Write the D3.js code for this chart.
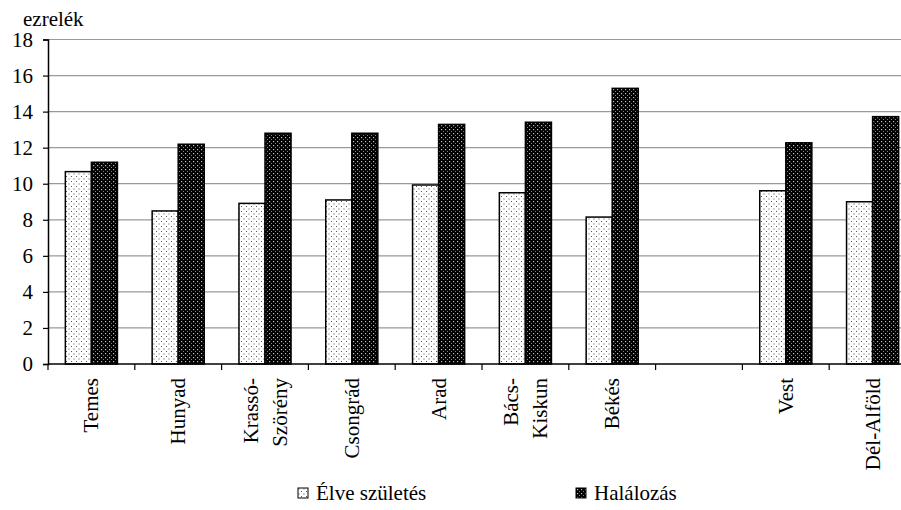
<!DOCTYPE html>
<html>
<head>
<meta charset="utf-8">
<script src="https://cdn.jsdelivr.net/npm/d3@7"></script>
</head>
<body style="margin:0;padding:0;background:#fff">
<div id="wrap"></div>
<script>
// ---- data ----
const categories = ["Temes", "Hunyad", "Krassó-|Szörény", "Csongrád", "Arad", "Bács-|Kiskun", "Békés", "_gap", "Vest", "Dél-Alföld"];
const seriesNames = ["Élve születés", "Halálozás"];
const elveSzuletes = [10.67, 8.49, 8.91, 9.10, 9.93, 9.50, 8.15, null, 9.61, 9.00];
const halalozas    = [11.19, 12.19, 12.80, 12.80, 13.29, 13.41, 15.29, null, 12.27, 13.72];
const yTicks = [0, 2, 4, 6, 8, 10, 12, 14, 16, 18];
const yUnit = "ezrelék";

const seriesValues = [elveSzuletes, halalozas];
const patternIds = ["patLight", "patDark"];

const svg = d3.select("#wrap").append("svg")
  .attr("width", 901).attr("height", 510)
  .style("display", "block");

function serif(sel, size) {
  return sel.style("font", size + "px 'Times New Roman', 'Liberation Serif', serif");
}

// ---- patterns ----
const defs = svg.append("defs");
const pl = defs.append("pattern").attr("id", "patLight").attr("patternUnits", "userSpaceOnUse")
  .attr("width", 5).attr("height", 5);
pl.append("rect").attr("width", 5).attr("height", 5).attr("fill", "#fff");
pl.append("rect").attr("x", 1).attr("y", 1).attr("width", 1).attr("height", 1).attr("fill", "#555");
pl.append("rect").attr("x", 3.5).attr("y", 3.5).attr("width", 1).attr("height", 1).attr("fill", "#555");

const pd = defs.append("pattern").attr("id", "patDark").attr("patternUnits", "userSpaceOnUse")
  .attr("width", 4).attr("height", 4);
pd.append("rect").attr("width", 4).attr("height", 4).attr("fill", "#000");
pd.append("rect").attr("x", 1).attr("y", 1).attr("width", 1.2).attr("height", 1.2).attr("fill", "#bbb");
pd.append("rect").attr("x", 3).attr("y", 3).attr("width", 1).attr("height", 1).attr("fill", "#888");

// ---- scales ----
const plotLeft = 48, plotBottom = 364, plotTop = 39.5;
const step = 86.8;
const x0 = d3.scaleBand().domain(categories).range([plotLeft, plotLeft + step * categories.length])
  .paddingInner(0.4).paddingOuter(0.2);
const x1 = d3.scaleBand().domain(seriesNames).range([0, x0.bandwidth()]);
const y = d3.scaleLinear().domain([0, 18]).range([plotBottom, plotTop]);

// ---- gridlines ----
svg.append("g").selectAll("line").data(yTicks.filter(d => d > 0)).join("line")
  .attr("x1", plotLeft).attr("x2", 901)
  .attr("y1", d => y(d)).attr("y2", d => y(d))
  .attr("stroke", "#999").attr("stroke-width", 1.2);

// ---- bars ----
const rows = [];
categories.forEach((c, i) => {
  seriesNames.forEach((s, j) => {
    const v = seriesValues[j][i];
    if (v != null) rows.push({ c, s, v, j });
  });
});
svg.append("g").selectAll("rect").data(rows).join("rect")
  .attr("x", d => x0(d.c) + x1(d.s))
  .attr("y", d => y(d.v))
  .attr("width", x1.bandwidth())
  .attr("height", d => y(0) - y(d.v))
  .attr("fill", d => `url(#${patternIds[d.j]})`)
  .attr("stroke", "#000").attr("stroke-width", 1.5);

// ---- y axis ----
const yAxis = d3.axisLeft(y).tickValues(yTicks).tickSize(5).tickPadding(10);
const gy = svg.append("g").attr("transform", `translate(${plotLeft},0)`).call(yAxis);
gy.attr("font-family", null).attr("font-size", null);
gy.select(".domain").attr("stroke", "#000").attr("stroke-width", 1.5);
gy.selectAll(".tick line").attr("stroke", "#000").attr("stroke-width", 1.2);
serif(gy.selectAll(".tick text"), 21).attr("fill", "#000");

serif(svg.append("text").attr("x", 23).attr("y", 26), 21).text(yUnit);

// ---- x axis ----
svg.append("line").attr("x1", plotLeft).attr("x2", 901).attr("y1", plotBottom).attr("y2", plotBottom)
  .attr("stroke", "#000").attr("stroke-width", 1.5);
const boundaries = categories.map((c, i) => x0.step() * i + plotLeft);
svg.append("g").selectAll("line").data(boundaries).join("line")
  .attr("x1", d => d).attr("x2", d => d).attr("y1", plotBottom).attr("y2", plotBottom + 6)
  .attr("stroke", "#000").attr("stroke-width", 1.2);

const labG = svg.append("g");
categories.forEach(c => {
  if (c === "_gap") return;
  const cx = x0(c) + x0.bandwidth() / 2;
  const lines = c.split("|");
  const lh = 29;
  lines.forEach((ln, k) => {
    const off = (k - (lines.length - 1) / 2) * lh;
    serif(labG.append("text"), 21)
      .attr("transform", `translate(${cx + off + 7},378) rotate(-90)`)
      .attr("text-anchor", "end")
      .text(ln);
  });
});

// ---- legend ----
const legendX = [298, 576];
seriesNames.forEach((s, j) => {
  svg.append("rect").attr("x", legendX[j]).attr("y", 488).attr("width", 10).attr("height", 10)
    .attr("fill", `url(#${patternIds[j]})`).attr("stroke", "#000").attr("stroke-width", 1);
  serif(svg.append("text").attr("x", legendX[j] + 18).attr("y", 500), 21).text(s);
});
</script>
</body>
</html>
